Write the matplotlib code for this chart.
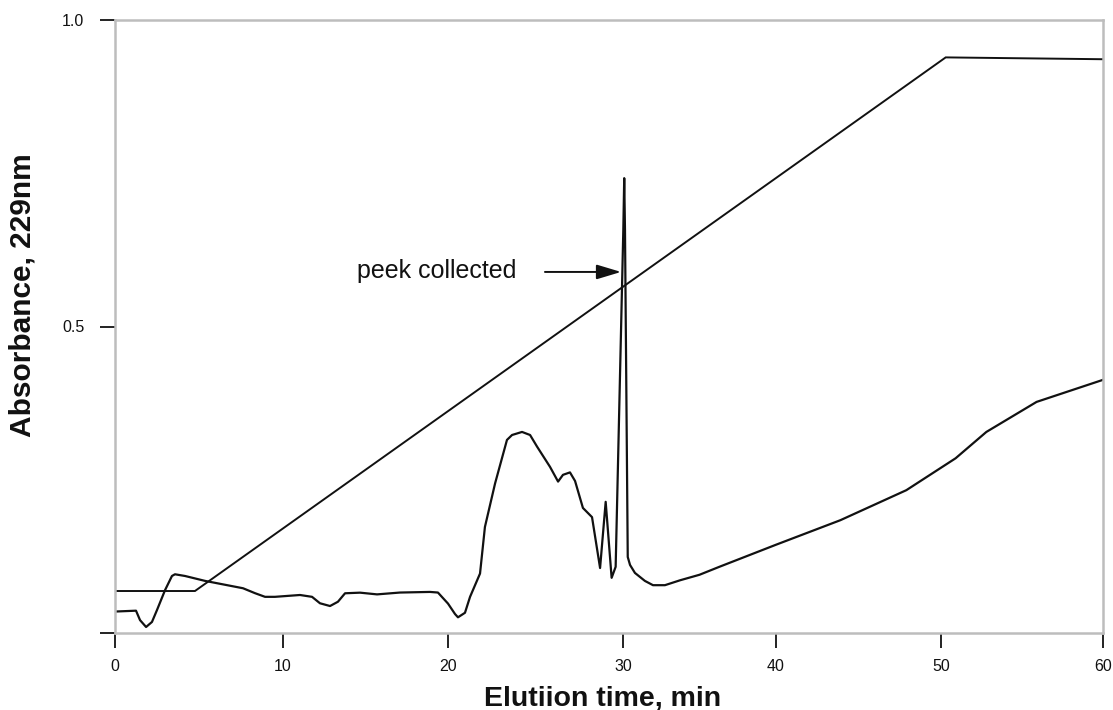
import numpy as np
import matplotlib
matplotlib.use("Agg")
import matplotlib.pyplot as plt

# ---- data ----
x_ticks = [0, 10, 20, 30, 40, 50, 60]
x_tick_pos = [115, 283, 448, 623, 776, 941, 1103]   # scanned axis tick spacing (irregular)
y_ticks = [0, 0.5, 1.0]
y_tick_labels = ["", "0.5", "1.0"]

grad_t = [0.0, 4.76, 50.29, 60.0]
grad_v = [0.0685, 0.0685, 0.939, 0.936]

abs_t = [0.0, 1.25, 1.49, 1.85, 2.20, 2.50, 2.98, 3.39, 3.57, 4.17, 5.36, 7.62,
         8.33, 8.93, 9.52, 11.03, 11.76, 12.24, 12.85, 13.33, 13.76, 14.67, 15.70,
         17.09, 18.91, 19.39, 20.0, 20.40, 20.57, 20.97, 21.26, 21.83, 22.11, 22.69,
         23.37, 23.66, 24.23, 24.69, 25.09, 25.83, 26.29, 26.57, 26.97, 27.26, 27.71,
         28.23, 28.69, 29.01, 29.35, 29.58, 30.02, 30.08, 30.13, 30.31, 30.46, 30.78,
         31.43, 31.96, 32.74, 33.73, 35.0, 36.3, 40.0, 43.9, 47.9, 50.9, 52.8, 55.9, 60.0]
abs_v = [0.035, 0.0364, 0.021, 0.0098, 0.018, 0.0375, 0.070, 0.093, 0.0958, 0.093, 0.085, 0.073,
         0.065, 0.059, 0.059, 0.062, 0.059, 0.0485, 0.044, 0.051, 0.0648, 0.0658, 0.063,
         0.066, 0.067, 0.066, 0.048, 0.031, 0.0256, 0.033, 0.059, 0.097, 0.173, 0.244,
         0.315, 0.323, 0.328, 0.323, 0.304, 0.271, 0.247, 0.258, 0.262, 0.248, 0.204,
         0.189, 0.106, 0.214, 0.090, 0.108, 0.657, 0.742, 0.657, 0.124, 0.111, 0.098,
         0.085, 0.078, 0.078, 0.086, 0.095, 0.108, 0.144, 0.184, 0.233, 0.285, 0.328, 0.377, 0.413]

label_text = "peek collected"
label_xy = (14.5, 0.59)
arrow_from = (25.54, 0.589)
arrow_to = (29.89, 0.589)

# ---- piecewise scale reproducing the scanned x axis ----
T = np.array(x_ticks, float)
P = np.array(x_tick_pos, float)

def _interp_ext(v, xs, ys):
    v = np.asarray(v, float)
    out = np.interp(v, xs, ys)
    lo = v < xs[0]
    hi = v > xs[-1]
    s0 = (ys[1] - ys[0]) / (xs[1] - xs[0])
    s1 = (ys[-1] - ys[-2]) / (xs[-1] - xs[-2])
    out = np.where(lo, ys[0] + (v - xs[0]) * s0, out)
    out = np.where(hi, ys[-1] + (v - xs[-1]) * s1, out)
    return out

fwd = lambda v: _interp_ext(v, T, P)
inv = lambda v: _interp_ext(v, P, T)

plt.rcParams['font.family'] = ['Liberation Sans', 'DejaVu Sans']

fig = plt.figure(figsize=(11.13, 7.10), dpi=100)
ax = fig.add_axes([115/1113, (710-633)/710, (1103-115)/1113, (633-20)/710])
ax.set_xscale('function', functions=(fwd, inv))

ax.plot(grad_t, grad_v, color='#111111', lw=1.4, solid_joinstyle='miter')
ax.plot(abs_t, abs_v, color='#111111', lw=1.6, solid_joinstyle='round')

ax.set_xlim(0, 60)
ax.set_ylim(0, 1.0)
ax.set_xticks(x_ticks)
ax.set_xticklabels([str(t) for t in x_ticks])
ax.set_yticks(y_ticks)
ax.set_yticklabels(y_tick_labels)
ax.xaxis.set_minor_locator(matplotlib.ticker.NullLocator())

for sp in ax.spines.values():
    sp.set_color('#bdbdbd')
    sp.set_linewidth(1.8)

ax.tick_params(axis='both', direction='out', length=11, width=1.3, color='#111111',
               labelsize=11.5, labelcolor='#111111')
ax.tick_params(axis='x', pad=8)
ax.tick_params(axis='y', pad=11)

ax.set_xlabel("Elutiion time, min", fontsize=20.5, fontweight='bold', color='#111111')
ax.set_ylabel("Absorbance, 229nm", fontsize=21.5, fontweight='bold', color='#111111')
ax.xaxis.set_label_coords((603-115)/(1103-115), -(706-633)/613)
ax.yaxis.set_label_coords(-(115-23)/988, (633-295)/613)
ax.xaxis.label.set_verticalalignment('baseline')
ax.yaxis.label.set_verticalalignment('center')

ax.text(label_xy[0], label_xy[1], label_text, fontsize=18, color='#111111',
        ha='left', va='center')
ax.annotate("", xy=arrow_to, xytext=arrow_from,
            arrowprops=dict(arrowstyle='-|>,head_length=1.5,head_width=0.45',
                            color='#111111', lw=1.4, shrinkA=0, shrinkB=0))

fig.savefig("out.png", dpi=100)
